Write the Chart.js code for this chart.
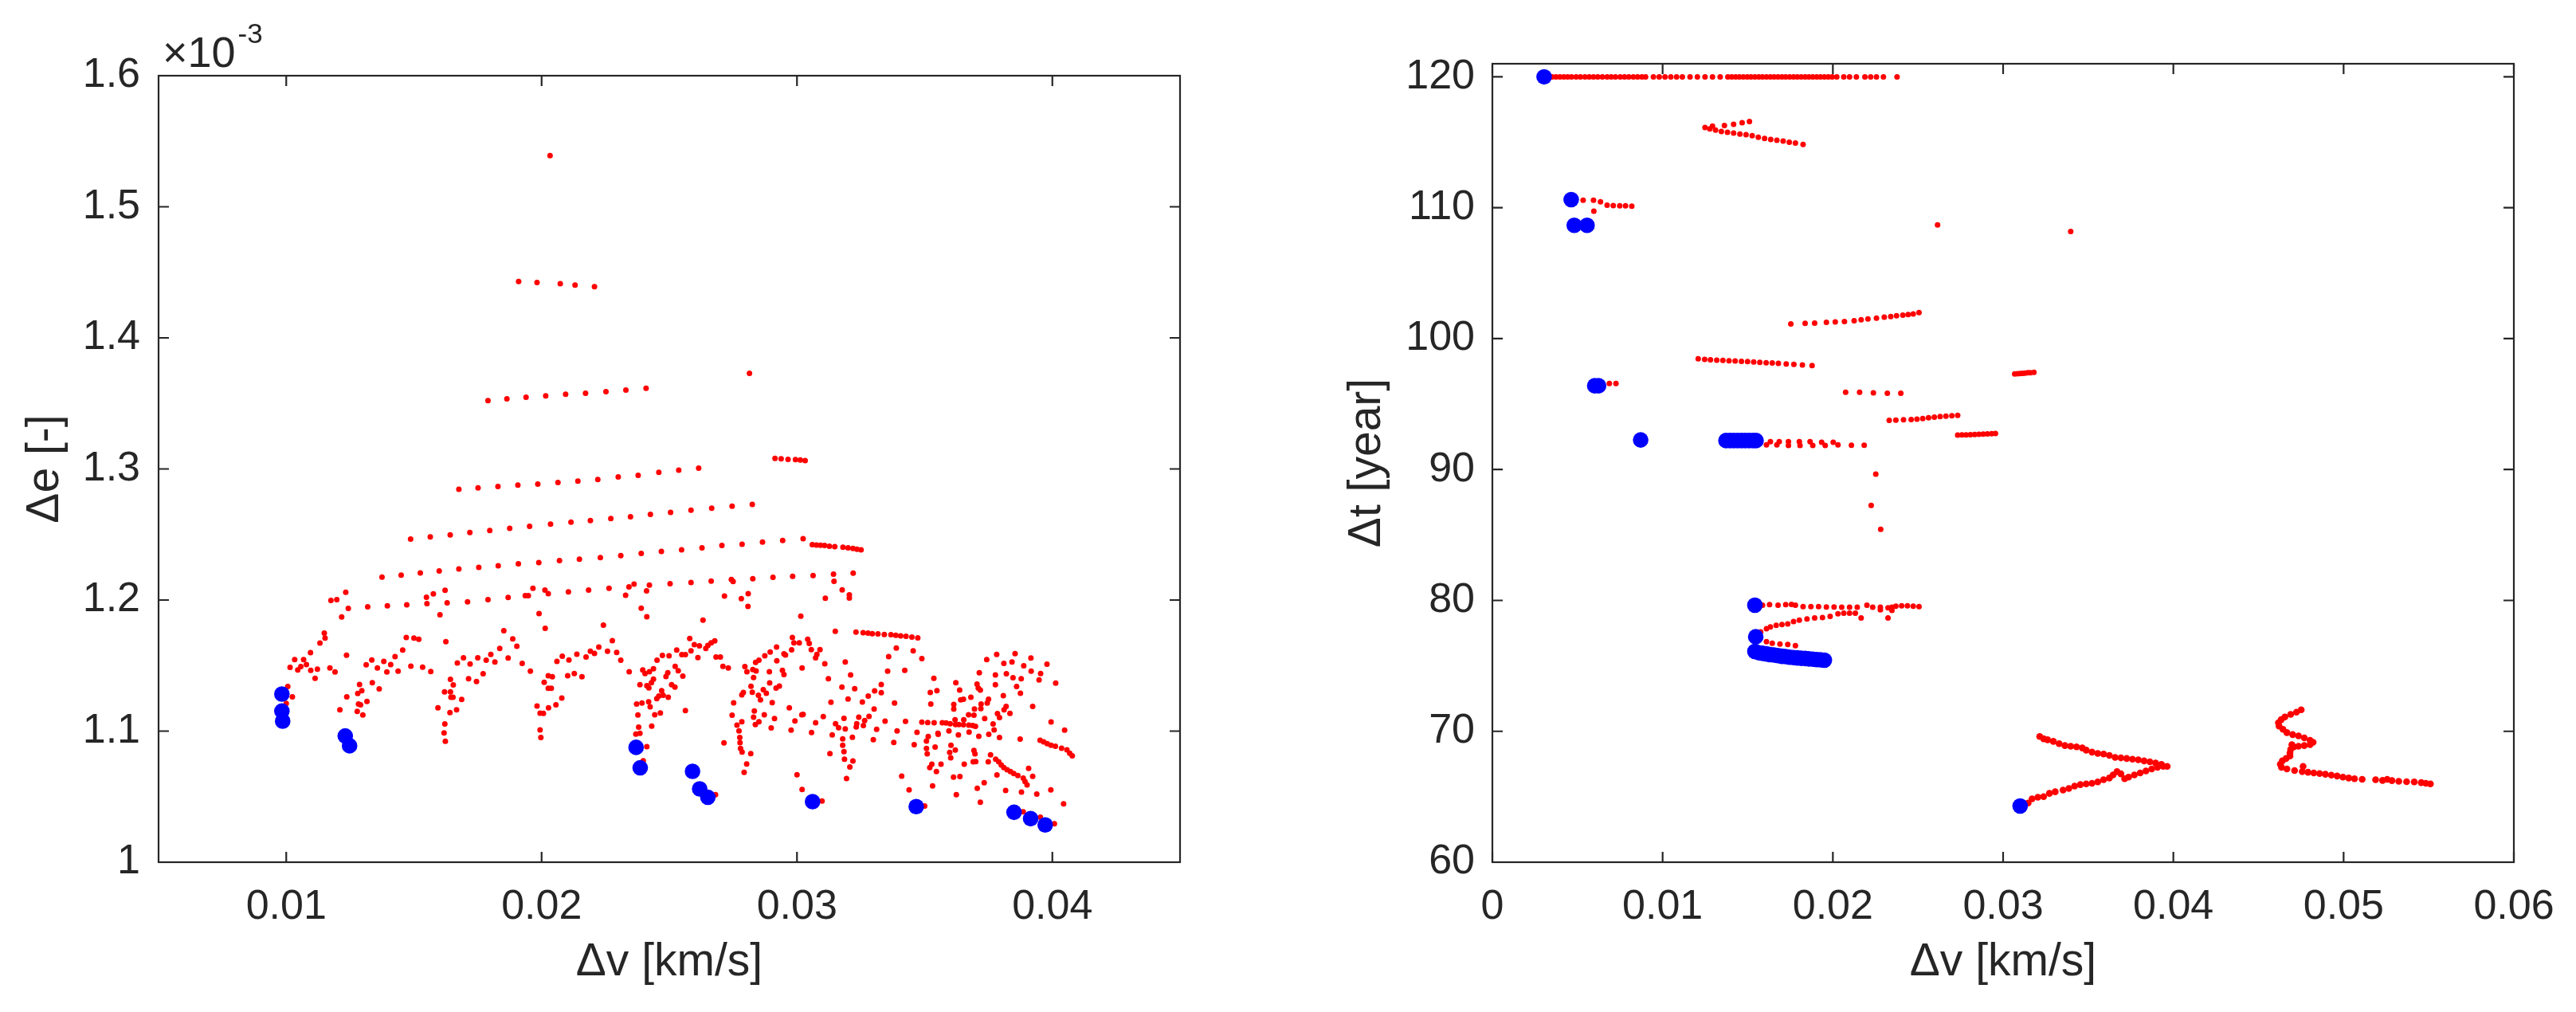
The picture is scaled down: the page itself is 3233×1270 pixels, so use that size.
<!DOCTYPE html>
<html>
<head>
<meta charset="utf-8">
<script src="https://cdn.jsdelivr.net/npm/chart.js@4.4.1/dist/chart.umd.min.js"></script>
<style>
html,body{margin:0;padding:0;background:#ffffff;}
#wrap{position:relative;width:3233px;height:1270px;background:#ffffff;overflow:hidden;}
canvas{position:absolute;top:0;}
</style>
</head>
<body>
<div id="wrap">
<canvas id="cL" width="1616" height="1270" style="left:0;width:1616px;height:1270px"></canvas>
<canvas id="cR" width="1617" height="1270" style="left:1616px;width:1617px;height:1270px"></canvas>
</div>
<script>
// ---------------- LEFT PANEL DATA: [dv (km/s), de (x10^-3)] ----------------
const leftXTicks = [0.01, 0.02, 0.03, 0.04];
const leftXLabels = ['0.01', '0.02', '0.03', '0.04'];
const leftYTicks = [1, 1.1, 1.2, 1.3, 1.4, 1.5, 1.6];
const leftYLabels = ['1', '1.1', '1.2', '1.3', '1.4', '1.5', '1.6'];

const leftRedUpper = [
[0.02033,1.539],
[0.01910,1.443],[0.01982,1.4423],[0.02073,1.4413],[0.02131,1.4403],[0.02207,1.439],
[0.01790,1.3522],[0.01864,1.3535],[0.01939,1.3547],[0.02016,1.3557],[0.02094,1.357],[0.02172,1.3577],[0.02252,1.359],[0.02330,1.3602],[0.02409,1.3615],
[0.02814,1.373],
[0.02914,1.3081],[0.02938,1.3078],[0.02965,1.3073],[0.02994,1.3071],[0.03013,1.3068],[0.03032,1.3064],
[0.01676,1.2845],[0.01751,1.2855],[0.01829,1.2867],[0.01907,1.2877],[0.01985,1.2884],[0.02064,1.2897],[0.02142,1.2907],[0.0222,1.2919],[0.023,1.2939],[0.02378,1.2952],[0.02459,1.2974],[0.02537,1.2991],[0.02615,1.3006]
];
const leftRow3 = [
[0.01487,1.2465],[0.01564,1.2482],[0.01642,1.2497],[0.01719,1.2515],[0.01797,1.253],[0.01875,1.2547],[0.01953,1.2562],[0.02035,1.2579],[0.02115,1.2594],[0.02191,1.2606],[0.02271,1.2621],[0.02348,1.2636],[0.02426,1.2654],[0.02505,1.2668],[0.02585,1.2686],[0.02666,1.2701],[0.02746,1.2716],[0.02825,1.273]
];
const leftRow4 = [
[0.01375,1.2175],[0.0145,1.219],[0.01525,1.2207],[0.01599,1.2222],[0.01676,1.2237],[0.01754,1.2249],[0.0183,1.2262],[0.01909,1.2277],[0.01989,1.2286],[0.0207,1.2301],[0.02148,1.2311],[0.0223,1.2324],[0.0231,1.2339],[0.0239,1.2356],[0.02469,1.2371],[0.02548,1.2383],[0.02628,1.2398],[0.02706,1.2416],[0.02785,1.2425],[0.02865,1.2443],[0.02944,1.2455],[0.03024,1.2468]
];
const leftTightRows = [
[0.0306,1.2423],[0.03076,1.242],[0.03092,1.2418],[0.03108,1.2416],[0.03127,1.2411],[0.03148,1.2408],[0.0318,1.2403],[0.032,1.2398],[0.03219,1.2393],[0.03235,1.2388],[0.03251,1.2383],
[0.03231,1.1755],[0.03259,1.1751],[0.03278,1.1747],[0.03295,1.1743],[0.03317,1.1741],[0.03342,1.1737],[0.03368,1.1735],[0.03387,1.1731],[0.03406,1.1727],[0.03427,1.1723],[0.0345,1.1717],[0.03473,1.1711]
];
const leftCloudA = [
[0.01175,1.1997],[0.01198,1.2003],[0.01233,1.2059],[0.01243,1.1936],[0.01217,1.1871],[0.01319,1.1948],[0.01396,1.1956],[0.01472,1.1964],[0.01549,1.2021],[0.01551,1.1972],[0.01576,1.2047],[0.01622,1.2074],[0.0163,1.1978],[0.01602,1.1887],[0.0171,1.1986],[0.0179,1.2003],[0.01869,1.2019],[0.01936,1.2033],[0.01948,1.2033],[0.01966,1.209],[0.0199,1.1897],
[0.01149,1.1747],[0.01152,1.1709],[0.01132,1.1672],[0.01095,1.1599],[0.01033,1.1545],[0.01068,1.1545],[0.01015,1.1486],[0.01045,1.1466],[0.01057,1.1492],[0.01079,1.1508],[0.01096,1.1464],[0.01122,1.1472],[0.01113,1.1403],[0.01171,1.1482],[0.01191,1.1451],[0.01236,1.1579],[0.01006,1.134],[0.01024,1.1261],[0.01,1.1212],[0.01237,1.1261],[0.0121,1.1163],[0.01287,1.1356],[0.01296,1.1309],[0.0128,1.1287],[0.01337,1.137],[0.01364,1.1322],[0.01316,1.1226],[0.01283,1.1206],[0.01291,1.12],[0.01278,1.1151],[0.013,1.1123],[0.01313,1.1506],[0.01335,1.1543],[0.01357,1.1482],[0.01382,1.1532],[0.01409,1.1508],[0.01394,1.1451],[0.01426,1.1569],[0.01438,1.1457],[0.01456,1.1618],[0.0147,1.1715],[0.015,1.1709],[0.01519,1.1701],[0.01488,1.1496],[0.01534,1.1488],[0.01566,1.1455],[0.01625,1.1682],[0.01643,1.1395],[0.01654,1.1352],[0.0162,1.1299],[0.01643,1.1299],[0.01645,1.1259],[0.01653,1.1259],[0.01687,1.1241],[0.01594,1.1178],[0.01641,1.1141],[0.01667,1.1163],[0.01621,1.1054],[0.01618,1.0987],[0.01623,1.0922],[0.0167,1.152],[0.01694,1.1559],[0.0172,1.1512],[0.0175,1.1559],[0.01714,1.1399],[0.01745,1.1378],[0.01771,1.1437],[0.01783,1.1541],[0.01801,1.1585],[0.01817,1.1528],[0.01836,1.163],[0.01852,1.1766],[0.01887,1.1703],[0.01903,1.1648],[0.01869,1.1557],[0.01924,1.1516],[0.01956,1.1457],[0.01982,1.1192],[0.01994,1.1137],[0.01994,1.1009],[0.01997,1.0951]
];
const leftCloudB = [
[0.02013,1.2076],[0.02026,1.2049],[0.02105,1.2063],[0.02184,1.2076],[0.02264,1.209],[0.02329,1.2037],[0.02342,1.21],[0.02362,1.2122],[0.02411,1.207],[0.02422,1.2114],[0.02503,1.2124],[0.02585,1.2134],[0.02664,1.2145],[0.02743,1.2157],[0.0275,1.2141],[0.02827,1.2163],[0.02906,1.2173],[0.02983,1.2181],[0.02716,1.2031],[0.02782,1.2011],[0.02809,1.2049],[0.02808,1.1952],[0.0239,1.1938],[0.02412,1.1873],[0.02242,1.1808],[0.02632,1.1847],[0.02014,1.1784],[0.03015,1.1877],
[0.02277,1.169],[0.02224,1.1642],[0.02191,1.161],[0.02207,1.1593],[0.02174,1.1565],[0.02138,1.1587],[0.02107,1.1543],[0.02081,1.1571],[0.0206,1.1532],[0.02258,1.161],[0.02294,1.1601],[0.0231,1.1541],[0.02343,1.1453],[0.02102,1.1423],[0.02128,1.1439],[0.02158,1.1415],[0.02026,1.1423],[0.02042,1.1415],[0.0201,1.1372],[0.02026,1.1326],[0.02038,1.1326],[0.02079,1.1253],[0.02056,1.12],[0.02027,1.1178],[0.02007,1.1135],
[0.02396,1.1466],[0.02405,1.1439],[0.02422,1.1453],[0.02438,1.1476],[0.02452,1.1541],[0.02473,1.1577],[0.02499,1.1575],[0.02529,1.1618],[0.02549,1.1583],[0.02563,1.1583],[0.0258,1.1707],[0.02598,1.166],[0.02618,1.165],[0.02585,1.1613],[0.02612,1.1561],[0.02643,1.163],[0.02651,1.1654],[0.02664,1.1674],[0.02678,1.1688],[0.02683,1.1565],[0.027,1.1565],[0.0271,1.1494],[0.02731,1.1482],[0.02385,1.1354],[0.02412,1.1346],[0.0242,1.133],[0.0243,1.137],[0.02438,1.1397],[0.02487,1.1417],[0.02494,1.1445],[0.02523,1.1494],[0.02535,1.1461],[0.02553,1.1419],[0.02509,1.1354],[0.02522,1.1336],[0.0247,1.1309],[0.02451,1.1247],[0.02459,1.1267],[0.02496,1.1259],[0.02476,1.1273],[0.02419,1.1224],[0.02425,1.1186],[0.02393,1.1214],[0.02372,1.1206],[0.02377,1.1123],[0.02443,1.1125],[0.02465,1.1139],[0.02563,1.1157],[0.02431,1.1038],[0.0238,1.103],[0.02369,1.0977],[0.02385,1.0983],[0.02412,1.0882],[0.02398,1.0774],[0.02714,1.091],[0.02681,1.0515],
[0.02796,1.1492],[0.02804,1.1453],[0.02827,1.147],[0.0284,1.1459],[0.02838,1.1524],[0.02851,1.1541],[0.02874,1.1575],[0.02895,1.1603],[0.0292,1.1642],[0.02949,1.1589],[0.02955,1.1581],[0.02979,1.162],[0.02982,1.1715],[0.02988,1.1674],[0.03009,1.1674],[0.02921,1.1536],[0.02892,1.1453],[0.02943,1.1464],[0.02949,1.1431],[0.0302,1.1482],[0.0283,1.1409],[0.0282,1.1342],[0.02825,1.1297],[0.0279,1.1295],[0.02784,1.1277],[0.02893,1.1368],[0.02918,1.1328],[0.02931,1.1344],[0.02868,1.1316],[0.0288,1.1289],[0.02849,1.1273],[0.02857,1.1239],[0.02903,1.1218],[0.02752,1.1216],[0.02746,1.1121],[0.02833,1.1153],[0.0283,1.1107],[0.02872,1.1125],[0.02912,1.1095],[0.02851,1.1072],[0.02837,1.105],[0.02899,1.1024],[0.0297,1.1178],[0.02992,1.1078],[0.02977,1.1007],[0.03019,1.1125],[0.02784,1.1072],[0.02765,1.1046],[0.02773,1.1001],[0.02776,1.0951],[0.02777,1.0912],[0.02779,1.0868],[0.02785,1.0841],[0.02819,1.0829],[0.02803,1.075],[0.02793,1.0685],[0.03,1.0667],[0.0302,1.0555]
];
const leftCloudC = [
[0.03063,1.2187],[0.03143,1.2197],[0.03145,1.2143],[0.0322,1.2205],[0.03177,1.2078],[0.03205,1.2039],[0.03205,1.2015],[0.03111,1.2013],[0.0315,1.1761],
[0.03042,1.1701],[0.03048,1.1668],[0.03056,1.1622],[0.0309,1.1622],[0.03078,1.1585],[0.03073,1.1559],[0.03109,1.1514],[0.03189,1.1528],[0.03123,1.1399],[0.0321,1.1429],[0.03176,1.1336],[0.03226,1.1324],[0.032,1.1245],[0.03133,1.122],[0.03256,1.1222],[0.03279,1.1267],[0.03304,1.1307],[0.0333,1.1293],[0.0333,1.1356],[0.03359,1.1569],[0.03389,1.1634],[0.03455,1.1613],[0.03489,1.1553],[0.03355,1.1457],[0.03422,1.1464],[0.03382,1.1214],[0.03302,1.1168],[0.03282,1.1113],[0.03242,1.1107],[0.03265,1.108],[0.03234,1.1056],[0.0326,1.1042],[0.03232,1.1032],[0.03184,1.1097],[0.03151,1.1056],[0.03163,1.1026],[0.03189,1.1016],[0.03103,1.1111],[0.03073,1.1064],[0.03024,1.1127],[0.03057,1.0989],[0.03138,1.0971],[0.03179,1.094],[0.03217,1.0953],[0.03179,1.0892],[0.03184,1.0843],[0.03129,1.0829],[0.03186,1.0786],[0.03219,1.0772],[0.03207,1.0726],[0.03194,1.0639],[0.03299,1.0934],[0.03312,1.1014],[0.03345,1.1076],[0.03392,1.1001],[0.03379,1.0914],[0.03425,1.1074],[0.0341,1.0657],[0.03439,1.0551],[0.03098,1.0466],[0.035,1.0428],
[0.03536,1.1403],[0.03522,1.1295],[0.03548,1.1309],[0.03524,1.1206],[0.03489,1.1068],[0.03512,1.1066],[0.03537,1.1064],[0.0347,1.0991],[0.03514,1.0959],[0.03507,1.0924],[0.03541,1.0878],[0.03459,1.0896],[0.03507,1.0868],[0.0351,1.0827],[0.0352,1.0722],[0.03528,1.0748],[0.03546,1.0691],[0.03531,1.0582],[0.03553,1.0975]
];
const leftCloudD = [
[0.03569,1.1064],[0.03584,1.1062],[0.036,1.1056],[0.03621,1.105],[0.03634,1.105],[0.03652,1.1048],[0.03673,1.1046],[0.03688,1.1042],[0.03699,1.1036],
[0.03552,1.0983],[0.03564,1.0748],[0.03595,1.1001],[0.03603,1.0892],[0.03598,1.0837],[0.0362,1.0855],[0.03602,1.0797],[0.03632,1.0971],[0.03613,1.0649],[0.03638,1.0653],[0.03624,1.0515],[0.03655,1.0748],[0.03674,1.0993],[0.03681,1.1259],[0.03637,1.1313],[0.03622,1.137],[0.03614,1.1204],[0.03614,1.1168],[0.03641,1.1239],[0.03652,1.1243],[0.03672,1.1125],[0.03653,1.1086],[0.03619,1.1086],[0.03695,1.1168],[0.03693,1.1121],[0.03705,1.1358],[0.03714,1.1445],[0.03718,1.1313],[0.03721,1.1206],[0.0372,1.1172],[0.0371,1.1328],[0.03712,1.0961],[0.03693,1.0853],[0.03697,1.0827],[0.0369,1.0766],[0.037,1.0768],[0.03706,1.0564],[0.03718,1.0458],[0.03733,1.0606],[0.03743,1.1545],[0.0375,1.1243],[0.03745,1.1214],[0.03735,1.1095],[0.03751,1.0975],[0.03749,1.0766],[0.03758,1.0819],[0.03768,1.1054],[0.03772,1.1009],
[0.03778,1.0786],[0.0379,1.0766],[0.038,1.0742],[0.0381,1.0722],[0.03823,1.0705],[0.03836,1.0691],[0.03849,1.0677],[0.03865,1.0661],[0.03886,1.0641],[0.03893,1.0616],[0.03901,1.059],
[0.03782,1.1585],[0.03777,1.1429],[0.03777,1.1354],[0.03808,1.1271],[0.0381,1.1516],[0.0382,1.1437],[0.03785,1.1133],[0.03793,1.1103],[0.03811,1.1163],[0.03819,1.1188],[0.03834,1.1135],[0.03793,1.0951],[0.03783,1.0665],[0.03817,1.0547],[0.03846,1.1407],[0.03842,1.1528],[0.03854,1.1591],[0.0386,1.134],[0.03875,1.1289],[0.03878,1.1399],[0.03888,1.1498],[0.03916,1.1557],[0.03917,1.1457],[0.03948,1.139],[0.03954,1.1439],[0.03979,1.151],[0.04013,1.1366],[0.03923,1.1188],[0.03874,1.0939],[0.03907,1.0716],[0.03923,1.0655],[0.03879,1.0535],[0.03939,1.0519],[0.03994,1.0551],[0.04044,1.0446],[0.03995,1.107],[0.04048,1.1007],
[0.03952,1.093],[0.03966,1.0918],[0.0398,1.0904],[0.03995,1.0892],[0.04012,1.0884],[0.04036,1.087],[0.04057,1.0857],[0.04068,1.0831],[0.04078,1.0811],
[0.03886,1.0385],[0.03953,1.0343],[0.04008,1.0294]
];
const leftBlue = [
[0.00983,1.1283],[0.00983,1.1153],[0.00986,1.1076],[0.01231,1.0963],[0.01248,1.0888],[0.0237,1.0876],[0.02386,1.072],[0.02591,1.0693],[0.02619,1.0559],[0.02651,1.0495],[0.03061,1.0462],[0.03467,1.0424],[0.0385,1.0381],[0.03915,1.0332],[0.03972,1.0284]
];

// ---------------- RIGHT PANEL DATA: [dv (km/s), dt (year)] ----------------
const rightXTicks = [0, 0.01, 0.02, 0.03, 0.04, 0.05, 0.06];
const rightXLabels = ['0', '0.01', '0.02', '0.03', '0.04', '0.05', '0.06'];
const rightYTicks = [60, 70, 80, 90, 100, 110, 120];
const rightYLabels = ['60', '70', '80', '90', '100', '110', '120'];

const rightRed120 = [0.00352,0.00374,0.00397,0.0042,0.00442,0.00465,0.00492,0.00517,0.00544,0.00569,0.00594,0.00619,0.00646,0.00674,0.00698,0.00723,0.00751,0.00776,0.00801,0.00828,0.00853,0.00878,0.009,
0.00946,0.0098,0.01014,0.01048,0.01082,0.01116,0.01161,0.01204,0.01249,0.01293,0.01338,
0.01383,0.01406,0.01429,0.01451,0.01474,0.01497,0.01519,0.01542,0.01565,0.01587,0.0161,0.01633,0.01655,0.01678,0.01701,0.01723,0.01746,0.01769,0.01791,0.01814,0.01837,0.01859,0.01882,0.01905,0.01927,0.0195,0.01973,0.01996,
0.02023,0.02064,0.02098,0.02138,0.02188,0.02222,0.02256,0.02297,0.02377];
const rightT120 = 120;

const rightRedUpper = [
[0.01249,116.13],[0.01293,116.23],[0.01363,116.28],[0.01417,116.38],[0.01467,116.5],[0.0151,116.58],[0.01277,116.03],[0.01311,115.93],[0.01345,115.83],[0.01381,115.76],[0.01417,115.71],[0.01454,115.63],[0.0149,115.58],[0.01526,115.51],[0.01562,115.38],[0.01599,115.29],[0.01635,115.21],[0.01671,115.16],[0.01708,115.09],[0.01744,115.01],[0.0178,114.94],[0.01825,114.84],
[0.00533,110.57],[0.00594,110.57],[0.00635,110.45],[0.00674,110.2],[0.0071,110.17],[0.00748,110.15],[0.00782,110.15],[0.00819,110.12],[0.00596,109.73],
[0.02615,108.68],[0.03397,108.19],
[0.01753,101.12],[0.01837,101.17],[0.01893,101.19],[0.01962,101.24],[0.02014,101.27],[0.02068,101.31],[0.02125,101.36],[0.02166,101.44],[0.02206,101.51],[0.02256,101.56],[0.02302,101.64],[0.0234,101.69],[0.02374,101.74],[0.02411,101.79],[0.02442,101.84],[0.02472,101.89],[0.02506,101.99],
[0.01209,98.46],[0.01247,98.41],[0.01281,98.39],[0.01318,98.36],[0.01354,98.34],[0.0139,98.31],[0.01426,98.29],[0.01463,98.26],[0.01499,98.24],[0.01535,98.21],[0.01571,98.19],[0.01608,98.16],[0.01644,98.14],[0.0168,98.11],[0.01726,98.06],[0.01771,98.04],[0.01821,97.99],[0.01878,97.94],
[0.00687,96.57],[0.00726,96.57],
[0.02075,95.91],[0.02157,95.91],[0.02238,95.86],[0.0232,95.83],[0.02399,95.83],
[0.02331,93.75],[0.0237,93.77],[0.02415,93.8],[0.0246,93.82],[0.02494,93.85],[0.02528,93.9],[0.02562,93.95],[0.02596,94.0],[0.0263,94.05],[0.02664,94.07],[0.02699,94.1],[0.02733,94.14],
[0.02733,92.63],[0.02758,92.64],[0.02783,92.65],[0.02808,92.66],[0.02833,92.68],[0.02858,92.69],[0.02883,92.71],[0.02908,92.72],[0.02933,92.74],[0.02955,92.75],
[0.03068,97.3],[0.03085,97.32],[0.031,97.33],[0.03115,97.35],[0.0313,97.37],[0.03145,97.39],[0.0316,97.4],[0.03181,97.42],
[0.0161,91.89],[0.01633,92.13],[0.01671,91.89],[0.01685,92.13],[0.01739,92.13],[0.01739,91.84],[0.01803,92.13],[0.01807,91.84],[0.01866,92.13],[0.01882,91.84],[0.01934,92.08],[0.01955,91.84],[0.02002,92.08],[0.0203,91.89],[0.02109,91.86],[0.02184,91.86],
[0.02252,89.65],[0.02225,87.26],[0.02281,85.43]
];
const rightRedMid = [
[0.01587,79.63],[0.01628,79.68],[0.01678,79.63],[0.01723,79.68],[0.01757,79.7],[0.0178,79.63],[0.01825,79.53],[0.01871,79.53],[0.01916,79.53],[0.01962,79.5],[0.02007,79.5],[0.02052,79.48],[0.02098,79.48],[0.02143,79.48],[0.022,79.63],[0.02234,79.48],[0.02279,79.48],[0.02324,79.43],[0.02347,79.48],[0.0237,79.55],[0.02404,79.58],[0.02438,79.58],[0.02472,79.55],[0.02506,79.53],
[0.01576,77.59],[0.0161,77.84],[0.01633,77.97],[0.01667,78.09],[0.01701,78.16],[0.01735,78.21],[0.01769,78.39],[0.01803,78.49],[0.01848,78.59],[0.01893,78.66],[0.01939,78.69],[0.01984,78.78],[0.0203,78.98],[0.02064,79.03],[0.02098,79.03],[0.02132,79.03],[0.02166,78.66],[0.02324,78.66],[0.02279,79.28],[0.02347,79.23],
[0.0161,76.85],[0.01644,76.72],[0.01689,76.67],[0.01735,76.63],[0.0178,76.55]
];
const rightRedArrow = [
[0.03147,64.52],[0.0317,64.84],[0.03204,64.96],[0.03238,65.01],[0.03272,65.26],[0.03306,65.38],[0.03352,65.51],[0.03386,65.63],[0.0342,65.81],[0.03454,65.93],[0.03488,65.98],[0.03522,66.03],[0.03556,66.13],[0.0359,66.3],[0.03624,66.43],[0.03646,66.67],[0.03669,66.92],[0.03692,66.75],[0.03714,66.38],[0.03737,66.5],[0.03771,66.67],[0.03805,66.82],[0.03839,66.97],[0.03873,67.12],[0.03907,67.25],[0.03941,67.32],[0.03964,67.32],
[0.0393,67.47],[0.03896,67.57],[0.03862,67.67],[0.03828,67.74],[0.03794,67.82],[0.0376,67.87],[0.03726,67.92],[0.03692,67.97],[0.03658,68.01],[0.03624,68.16],[0.0359,68.26],[0.03556,68.31],[0.03522,68.41],[0.03488,68.56],[0.03465,68.73],[0.03431,68.81],[0.03397,68.86],[0.03363,68.91],[0.03329,69.06],[0.03295,69.23],[0.03261,69.35],[0.03238,69.43],[0.03215,69.6]
];
const rightRedHook = [
[0.04751,71.64],[0.04723,71.46],[0.04689,71.29],[0.04655,71.09],[0.04633,70.89],[0.04617,70.65],[0.04621,70.4],[0.04644,70.15],[0.04667,69.9],[0.04701,69.75],[0.04735,69.65],[0.04769,69.5],[0.04803,69.31],[0.04821,69.16],[0.04803,68.98],[0.04769,68.91],[0.04735,68.86],[0.04708,68.81],[0.04696,68.98],[0.04689,68.61],[0.04685,68.36],[0.04685,68.11],[0.04662,67.92],[0.0464,67.74],[0.04628,67.49],[0.04635,67.25],[0.04667,67.12],[0.04712,67.0],[0.04757,66.92],[0.04791,66.87],[0.04825,66.82],[0.04859,66.77],[0.04893,66.72],[0.04928,66.65],[0.04962,66.58],[0.04996,66.5],[0.0503,66.43],[0.05064,66.38],[0.05109,66.33],
[0.05188,66.3],[0.05229,66.25],[0.05256,66.33],[0.05284,66.23],[0.05324,66.18],[0.0537,66.15],[0.05415,66.13],[0.05456,66.08],[0.05483,66.03],[0.0551,65.98],
[0.04762,67.32]
];
const rightBlue = [
[0.00304,120],[0.00463,110.62],[0.00481,108.66],[0.00556,108.66],[0.00601,96.4],[0.00624,96.4],[0.00871,92.26],
[0.01372,92.21],[0.01395,92.21],[0.01417,92.21],[0.0144,92.21],[0.01463,92.21],[0.01485,92.21],[0.01508,92.21],[0.01531,92.21],[0.01549,92.21],
[0.01542,79.63],[0.01547,77.22],
[0.01542,76.1],[0.01565,76.0],[0.01587,75.96],[0.0161,75.91],[0.01633,75.86],[0.01655,75.83],[0.01678,75.78],[0.01701,75.73],[0.01723,75.71],[0.01746,75.66],[0.01769,75.63],[0.01791,75.61],[0.01814,75.58],[0.01837,75.56],[0.01859,75.53],[0.01882,75.51],[0.01905,75.48],[0.01927,75.46],[0.0195,75.43],
[0.031,64.29]
];

// ---------------- STYLE ----------------
const FONT = '"Liberation Sans", Arial, Helvetica, sans-serif';
const INK = '#262626';
const RED = '#ff0000';
const BLUE = '#0000ff';
const TICK_LEN = 13;

const toPts = arr => arr.map(p => ({x: p[0], y: p[1]}));

const framePlugin = {
  id: 'frame',
  afterDraw(chart, args, opts) {
    const {ctx, chartArea: a, scales} = chart;
    ctx.save();
    ctx.strokeStyle = INK;
    ctx.lineWidth = 2.2;
    ctx.strokeRect(a.left, a.top, a.right - a.left, a.bottom - a.top);
    ctx.beginPath();
    scales.x.ticks.forEach(t => {
      const px = scales.x.getPixelForValue(t.value);
      ctx.moveTo(px, a.bottom); ctx.lineTo(px, a.bottom - TICK_LEN);
      ctx.moveTo(px, a.top); ctx.lineTo(px, a.top + TICK_LEN);
    });
    scales.y.ticks.forEach(t => {
      const py = scales.y.getPixelForValue(t.value);
      ctx.moveTo(a.left, py); ctx.lineTo(a.left + TICK_LEN, py);
      ctx.moveTo(a.right, py); ctx.lineTo(a.right - TICK_LEN, py);
    });
    ctx.stroke();
    if (opts && opts.exponent) {
      ctx.fillStyle = INK;
      ctx.textAlign = 'left';
      ctx.textBaseline = 'alphabetic';
      ctx.font = '54px ' + FONT;
      const x0 = a.left + 5, y0 = a.top - 11;
      ctx.fillText('\u00d710', x0, y0);
      const w = ctx.measureText('\u00d710').width;
      ctx.font = '35px ' + FONT;
      ctx.fillText('-3', x0 + w + 3, y0 - 30);
    }
    ctx.restore();
  }
};

function makeScales(o) {
  return {
    x: {
      type: 'linear', position: 'bottom', min: o.xMin, max: o.xMax,
      afterBuildTicks: s => { s.ticks = o.xTicks.map(v => ({value: v})); },
      afterFit: s => { s.height = o.xHeight; },
      grid: {display: false, drawTicks: false},
      border: {display: false},
      ticks: {callback: (v, i) => o.xLabels[i], font: {family: FONT, size: 52}, color: INK, padding: 25, maxRotation: 0, minRotation: 0, autoSkip: false},
      title: {display: true, text: o.xTitle, font: {family: FONT, size: 57}, color: INK, padding: {top: 0, bottom: 28}}
    },
    y: {
      type: 'linear', position: 'left', min: o.yMin, max: o.yMax,
      afterBuildTicks: s => { s.ticks = o.yTicks.map(v => ({value: v})); },
      afterFit: s => { s.width = o.yWidth; },
      grid: {display: false, drawTicks: false},
      border: {display: false},
      ticks: {callback: (v, i) => o.yLabels[i], font: {family: FONT, size: 52}, color: INK, padding: o.yPad, autoSkip: false},
      title: {display: true, text: o.yTitle, font: {family: FONT, size: 57}, color: INK, padding: {top: o.yTitlePad, bottom: 0}}
    }
  };
}

function ds(points, color, r, order) {
  return {data: toPts(points), showLine: false, pointRadius: r, pointHoverRadius: r,
    pointBackgroundColor: color, backgroundColor: color, pointBorderWidth: 0, borderWidth: 0, order: order};
}

const common = {responsive: false, animation: false, devicePixelRatio: 1, events: [],
  plugins: {legend: {display: false}, tooltip: {enabled: false}}};

new Chart(document.getElementById('cL'), {
  type: 'scatter',
  data: {datasets: [
    ds(leftBlue, BLUE, 9.8, 0),
    ds([].concat(leftRedUpper, leftRow3, leftRow4, leftTightRows, leftCloudA, leftCloudB, leftCloudC, leftCloudD), RED, 3.5, 1)
  ]},
  options: Object.assign({}, common, {
    layout: {padding: {left: 0, right: 135, top: 95, bottom: 0}},
    plugins: Object.assign({}, common.plugins, {frame: {exponent: true}}),
    scales: makeScales({xMin: 0.005, xMax: 0.045, xTicks: leftXTicks, xLabels: leftXLabels, xHeight: 188, xTitle: '\u0394v [km/s]',
      yMin: 1, yMax: 1.6, yTicks: leftYTicks, yLabels: leftYLabels, yWidth: 199, yPad: 23, yTitle: '\u0394e [-]', yTitlePad: 23})
  }),
  plugins: [framePlugin]
});

new Chart(document.getElementById('cR'), {
  type: 'scatter',
  data: {datasets: [
    ds(rightBlue, BLUE, 9.8, 0),
    ds([].concat(rightRed120.map(v => [v, rightT120]), rightRedUpper, rightRedMid), RED, 3.5, 1),
    ds([].concat(rightRedArrow, rightRedHook), RED, 4.3, 2)
  ]},
  options: Object.assign({}, common, {
    layout: {padding: {left: 0, right: 78, top: 80, bottom: 0}},
    plugins: Object.assign({}, common.plugins, {frame: {exponent: false}}),
    scales: makeScales({xMin: 0, xMax: 0.06, xTicks: rightXTicks, xLabels: rightXLabels, xHeight: 188, xTitle: '\u0394v [km/s]',
      yMin: 60, yMax: 121, yTicks: rightYTicks, yLabels: rightYLabels, yWidth: 257, yPad: 22, yTitle: '\u0394t [year]', yTitlePad: 66})
  }),
  plugins: [framePlugin]
});
</script>
</body>
</html>
